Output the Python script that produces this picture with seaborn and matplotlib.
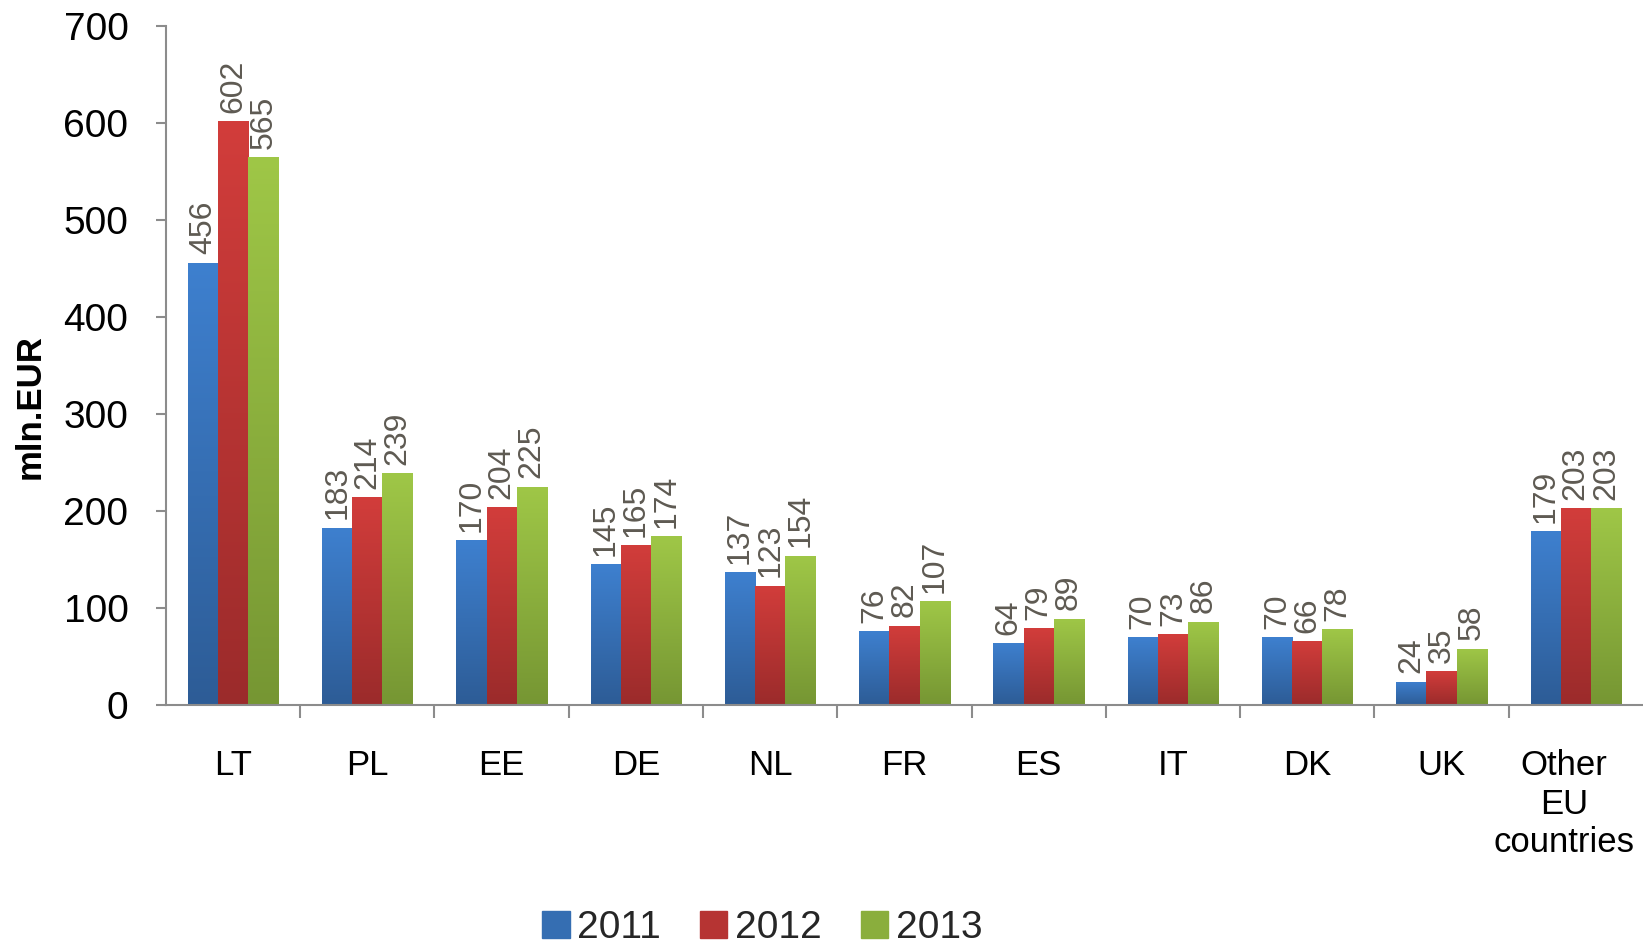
import numpy as np
import pandas as pd
import matplotlib
matplotlib.use("Agg")
import matplotlib.pyplot as plt
from matplotlib.colors import LinearSegmentedColormap
from matplotlib.transforms import ScaledTranslation
import seaborn as sns

# ── data ─────────────────────────────────────────────────────────────
countries = ["LT", "PL", "EE", "DE", "NL", "FR", "ES", "IT", "DK", "UK",
             "Other\nEU\ncountries"]
years = ["2011", "2012", "2013"]
v2011 = [456, 183, 170, 145, 137, 76, 64, 70, 70, 24, 179]
v2012 = [602, 214, 204, 165, 123, 82, 79, 73, 66, 35, 203]
v2013 = [565, 239, 225, 174, 154, 107, 89, 86, 78, 58, 203]

# (top, bottom) gradient colours per year
grad = {"2011": ("#3E80CF", "#2D5C96"),
        "2012": ("#D23D3B", "#9B2B2B"),
        "2013": ("#9FC747", "#769633")}

df = pd.DataFrame({
    "country": countries * 3,
    "year": [y for y in years for _ in countries],
    "value": v2011 + v2012 + v2013,
})

sns.set_theme(style="white")
plt.rcParams["font.family"] = ["Liberation Sans", "DejaVu Sans"]

fig = plt.figure(figsize=(16.43, 9.47), dpi=100)
ax = fig.add_axes([0.101, 0.2555, 0.899, 0.717])

palette = {y: grad[y][0] for y in years}
sns.barplot(data=df, x="country", y="value", hue="year", order=countries,
            hue_order=years, palette=palette, width=0.675, ax=ax,
            legend=False, saturation=1, linewidth=0)

# ── vertical gradient fill, clipped to each bar ──────────────────────
ramp = np.linspace(1, 0, 256).reshape(-1, 1)
for year, cont in zip(years, ax.containers):
    cmap = LinearSegmentedColormap.from_list(year, [grad[year][1], grad[year][0]])
    for bar in cont:
        x0, y0 = bar.get_x(), bar.get_y()
        w, h = bar.get_width(), bar.get_height()
        im = ax.imshow(ramp, extent=[x0, x0 + w, y0, y0 + h], aspect="auto",
                       cmap=cmap, vmin=0, vmax=1, zorder=bar.get_zorder())
        im.set_clip_path(bar)
    ax.bar_label(cont, labels=[str(int(b.get_height())) for b in cont],
                 rotation=90, padding=6, fontsize=23, color="#5E5A52")

ax.set_xlim(-0.5, len(countries) - 0.5)
ax.set_ylim(0, 700)

# ── axes styling ─────────────────────────────────────────────────────
for s in ["top", "right"]:
    ax.spines[s].set_visible(False)
for s in ["left", "bottom"]:
    ax.spines[s].set_color("#8C8C8C")
    ax.spines[s].set_linewidth(1.5)

ax.set_yticks(range(0, 701, 100))
ax.tick_params(axis="y", which="major", left=True, length=7, width=1.5,
               color="#8C8C8C", labelsize=28, pad=20, labelcolor="black")
ax.set_xticks(range(len(countries)))
ax.set_xticklabels(countries, fontsize=25, linespacing=1.2)
ax.set_xticks(np.arange(0.5, len(countries) - 1, 1), minor=True)
ax.tick_params(axis="x", which="major", length=0, pad=32, labelcolor="black")
ax.tick_params(axis="x", which="minor", bottom=True, length=9, width=1.5,
               color="#8C8C8C")

# nudge the long last label so it stays inside the figure
last = ax.get_xticklabels()[-1]
last.set_transform(last.get_transform() + ScaledTranslation(-0.12, 0, fig.dpi_scale_trans))

ax.set_xlabel("")
ax.set_ylabel("mln.EUR", fontsize=25, fontweight="bold", color="black")
ax.yaxis.set_label_coords(-0.081, 0.44)

# ── legend ───────────────────────────────────────────────────────────
handles = [plt.Rectangle((0, 0), 1, 1, color=sns.blend_palette(grad[y], 3)[1])
           for y in years]
fig.legend(handles, years, loc="center", bbox_to_anchor=(0.464, 0.02),
           ncol=3, frameon=False, fontsize=28, handlelength=0.7,
           handleheight=0.7, handletextpad=0.2, columnspacing=1.0)

fig.savefig("out.png", dpi=100)
